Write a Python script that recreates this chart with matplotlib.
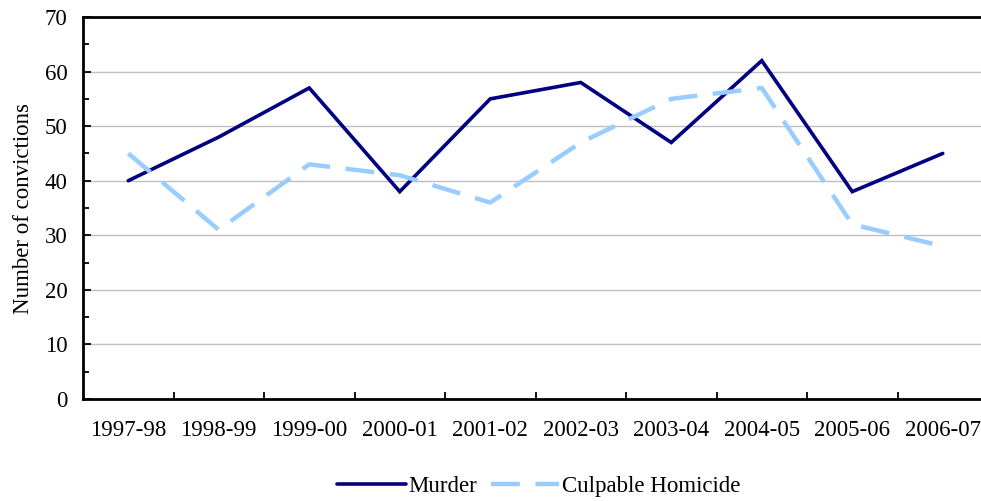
import matplotlib.pyplot as plt
from matplotlib.ticker import MultipleLocator

years = ['1997-98', '1998-99', '1999-00', '2000-01', '2001-02',
         '2002-03', '2003-04', '2004-05', '2005-06', '2006-07']
murder = [40, 48, 57, 38, 55, 58, 47, 62, 38, 45]
culpable = [45, 31, 43, 41, 36, 47, 55, 57, 32, 28]

plt.rcParams['font.family'] = ['Liberation Serif', 'DejaVu Serif']
fs = 16.5

fig = plt.figure(figsize=(9.81, 5.01), dpi=100)
ax = fig.add_axes([83 / 981, 1 - 399 / 501, 905 / 981, 382 / 501])

x = list(range(len(years)))
ax.plot(x, murder, color='#000080', linewidth=2.6, label='Murder',
        solid_capstyle='round', solid_joinstyle='miter')
ax.plot(x, culpable, color='#99ccff', linewidth=3.2, linestyle=(0, (6.5, 3.5)),
        label='Culpable Homicide')

ax.set_xlim(-0.5, len(years) - 0.5)
ax.set_ylim(0, 70)
ax.yaxis.set_major_locator(MultipleLocator(10))
ax.yaxis.set_minor_locator(MultipleLocator(5))
ax.set_xticks([i + 0.5 for i in range(len(years) - 1)])
ax.set_xticklabels([])
ax.set_xticks(x, minor=True)
ax.set_xticklabels(years, minor=True)
ax.tick_params(axis='x', which='minor', length=0, labelsize=fs, pad=15)
ax.tick_params(axis='x', which='major', direction='in', length=5, width=1.3)
ax.tick_params(axis='y', which='both', direction='in', width=1.3, labelsize=fs, pad=11)
ax.tick_params(axis='y', which='major', length=6)
ax.tick_params(axis='y', which='minor', length=4)
ax.yaxis.grid(True, color='#c0c0c0', linewidth=1)
ax.set_axisbelow(True)
for s in ['left', 'bottom', 'top']:
    ax.spines[s].set_linewidth(2)
ax.spines['right'].set_visible(False)
ax.set_ylabel('Number of convictions', fontsize=fs, labelpad=8)

fig.legend(loc='lower center', bbox_to_anchor=(0.549, -0.034), ncol=2,
           frameon=False, fontsize=fs, handlelength=3.0, columnspacing=0.6,
           handletextpad=0.1)

plt.savefig('out.png', dpi=100)
